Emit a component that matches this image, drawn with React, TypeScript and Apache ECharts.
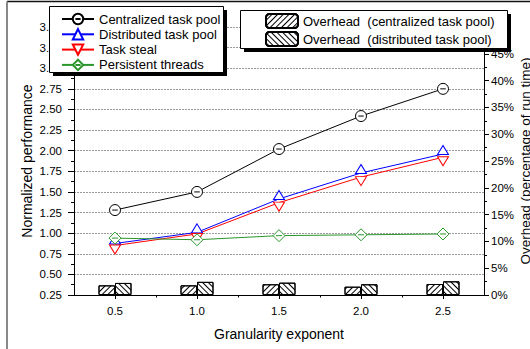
import React, { useEffect, useRef } from 'react';
import * as echarts from 'echarts';

// Granularity exponent (x) and measured values
const granularity = [0.5, 1.0, 1.5, 2.0, 2.5];
const centralizedPool = [1.28, 1.5, 2.02, 2.42, 2.75];
const distributedPool = [0.875, 1.01, 1.415, 1.73, 1.96];
const taskSteal = [0.85, 0.99, 1.37, 1.68, 1.92];
const persistentThreads = [0.94, 0.92, 0.97, 0.98, 0.99];
// Overhead as percentage of run time
const overheadCentralized = [1.8, 1.8, 2.0, 1.55, 2.05];
const overheadDistributed = [2.25, 2.45, 2.3, 2.0, 2.55];

const xMajorTicks = [0.5, 1.0, 1.5, 2.0, 2.5];
const xMinorTicks = [0.75, 1.25, 1.75, 2.25];

const FONT = '"Liberation Sans", Arial, Helvetica, sans-serif';

const CIRCLE_DASH = 'path://M0,10A10,10,0,1,1,20,10A10,10,0,1,1,0,10ZM5,10L15,10';
const DIAMOND_DASH = 'path://M10,0L20,10L10,20L0,10ZM5,10L15,10';
const TRI_DOWN = 'path://M0,0L20,0L10,18Z';

const pairs = (ys: number[]) => granularity.map((x, i) => [x, ys[i]]);

const lineSeries = (
  name: string,
  values: number[],
  color: string,
  symbol: string,
  symbolSize: number | number[],
  symbolOffset: number[] = [0, 0]
) => ({
  name,
  type: 'line',
  xAxisIndex: 0,
  yAxisIndex: 0,
  data: pairs(values),
  symbol,
  symbolSize,
  symbolOffset,
  showSymbol: true,
  lineStyle: { color, width: 1 },
  itemStyle: { color: '#fff', borderColor: color, borderWidth: 1 },
  z: 5,
});

const hatch = (rotation: number) => ({
  symbol: 'rect',
  symbolSize: 1,
  dashArrayX: [1, 0],
  dashArrayY: [1, 3],
  rotation,
  color: '#000',
  backgroundColor: 'rgba(0,0,0,0)',
});

const barSeries = (name: string, values: number[], rotation: number) => ({
  name,
  type: 'bar',
  xAxisIndex: 0,
  yAxisIndex: 1,
  data: pairs(values),
  barWidth: 16.5,
  barGap: '0%',
  itemStyle: {
    color: '#fff',
    borderColor: '#000',
    borderWidth: 1,
    decal: hatch(rotation),
  },
  z: 3,
});

export default function App() {
  const ref = useRef<HTMLDivElement>(null);

  useEffect(() => {
    if (!ref.current) return;
    const chart = echarts.init(ref.current, null, { renderer: 'svg' });

    const axisText = { fontFamily: FONT, fontSize: 11.5, color: '#000' };
    const blackLine = { lineStyle: { color: '#000', width: 1 } };

    chart.setOption({
      animation: false,
      backgroundColor: '#fff',
      textStyle: { fontFamily: FONT },
      grid: { left: 74, right: 46, top: 27, bottom: 54, containLabel: false, outerBoundsMode: 'none' },
      xAxis: [
        {
          type: 'value',
          min: 0.25,
          max: 2.75,
          interval: 0.25,
          position: 'bottom',
          axisLine: { show: true, ...blackLine },
          axisTick: { show: true, customValues: xMajorTicks, length: 4, ...blackLine },
          axisLabel: {
            ...axisText,
            customValues: xMajorTicks,
            margin: 10,
            formatter: (v: number) => (Math.abs(v * 2 - Math.round(v * 2)) < 1e-6 ? v.toFixed(1) : ''),
          },
          splitLine: { show: false },
          name: 'Granularity exponent',
          nameLocation: 'middle',
          nameGap: 32,
          nameMoveOverlap: false,
          nameTextStyle: { fontFamily: FONT, fontSize: 14, color: '#000' },
        },
        {
          type: 'value',
          min: 0.25,
          max: 2.75,
          interval: 0.25,
          position: 'bottom',
          axisLine: { show: false },
          axisTick: { show: true, customValues: xMinorTicks, length: 2.5, ...blackLine },
          axisLabel: { show: false },
          splitLine: { show: false },
        },
      ],
      yAxis: [
        {
          type: 'value',
          min: 0.25,
          max: 3.5,
          interval: 0.25,
          position: 'left',
          axisLine: { show: true, ...blackLine },
          axisTick: { show: true, length: 6, ...blackLine },
          minorTick: { show: true, splitNumber: 2, length: 3, ...blackLine },
          axisLabel: { ...axisText, margin: 12, formatter: (v: number) => v.toFixed(2) },
          splitLine: { show: true, lineStyle: { color: '#9a9a9a', width: 1, type: [2, 1] } },
          name: 'Normalized performance',
          nameLocation: 'middle',
          nameGap: 40,
          nameMoveOverlap: false,
          nameTextStyle: { fontFamily: FONT, fontSize: 14, color: '#000' },
        },
        {
          type: 'value',
          min: 0,
          max: 50,
          interval: 5,
          position: 'right',
          axisLine: { show: true, ...blackLine },
          axisTick: { show: true, length: 5, ...blackLine },
          minorTick: { show: true, splitNumber: 2, length: 3, ...blackLine },
          axisLabel: { ...axisText, margin: 7, formatter: (v: number) => (v >= 50 ? '' : `${v}%`) },
          splitLine: { show: false },
          name: 'Overhead (percentage of run time)',
          nameLocation: 'middle',
          nameGap: 34,
          nameMoveOverlap: false,
          nameTextStyle: { fontFamily: FONT, fontSize: 13.5, color: '#000' },
        },
      ],
      legend: [
        {
          orient: 'vertical',
          left: 61,
          top: 11.5,
          padding: 0,
          itemWidth: 32,
          itemHeight: 13,
          itemGap: 0.3,
          selectedMode: false,
          z: 6,
          textStyle: { fontFamily: FONT, fontSize: 13, color: '#000', lineHeight: 15 },
          data: ['Centralized task pool', 'Distributed task pool', 'Task steal', 'Persistent threads'],
        },
        {
          orient: 'vertical',
          left: 265,
          top: 13,
          padding: 0,
          itemWidth: 32,
          itemHeight: 14,
          itemGap: 2,
          selectedMode: false,
          z: 6,
          textStyle: { fontFamily: FONT, fontSize: 13, color: '#000', lineHeight: 14 },
          data: ['Overhead  (centralized task pool)', 'Overhead  (distributed task pool)'],
        },
      ],
      graphic: [
        // outer frame
        { type: 'line', z: 1, shape: { x1: 7, y1: 1.5, x2: 530, y2: 1.5 }, style: { stroke: '#111', lineWidth: 1.5 } },
        { type: 'line', z: 1, shape: { x1: 7, y1: 1.5, x2: 7, y2: 349 }, style: { stroke: '#888', lineWidth: 2 } },
        // legend boxes with drop shadow
        { type: 'rect', z: 4, shape: { x: 53, y: 10, width: 174, height: 66 }, style: { fill: '#000' } },
        { type: 'rect', z: 4, shape: { x: 49.5, y: 6.5, width: 174, height: 66 }, style: { fill: '#fff', stroke: '#000', lineWidth: 1 } },
        { type: 'rect', z: 4, shape: { x: 244, y: 14, width: 267, height: 38 }, style: { fill: '#000' } },
        { type: 'rect', z: 4, shape: { x: 240.5, y: 10.5, width: 267, height: 38 }, style: { fill: '#fff', stroke: '#000', lineWidth: 1 } },
      ],
      series: [
        barSeries('Overhead  (centralized task pool)', overheadCentralized, -Math.PI / 4),
        barSeries('Overhead  (distributed task pool)', overheadDistributed, Math.PI / 4),
        lineSeries('Centralized task pool', centralizedPool, '#000', CIRCLE_DASH, 11),
        lineSeries('Distributed task pool', distributedPool, '#0000ff', 'triangle', [11, 9], [0, -4]),
        lineSeries('Task steal', taskSteal, '#ff0000', TRI_DOWN, [11, 9], [0, 4]),
        lineSeries('Persistent threads', persistentThreads, '#2a962a', DIAMOND_DASH, 12),
      ],
    });

    return () => chart.dispose();
  }, []);

  return (
    <div
      ref={ref}
      style={{ position: 'fixed', left: 0, top: 0, width: 530, height: 349, background: '#fff' }}
    />
  );
}
